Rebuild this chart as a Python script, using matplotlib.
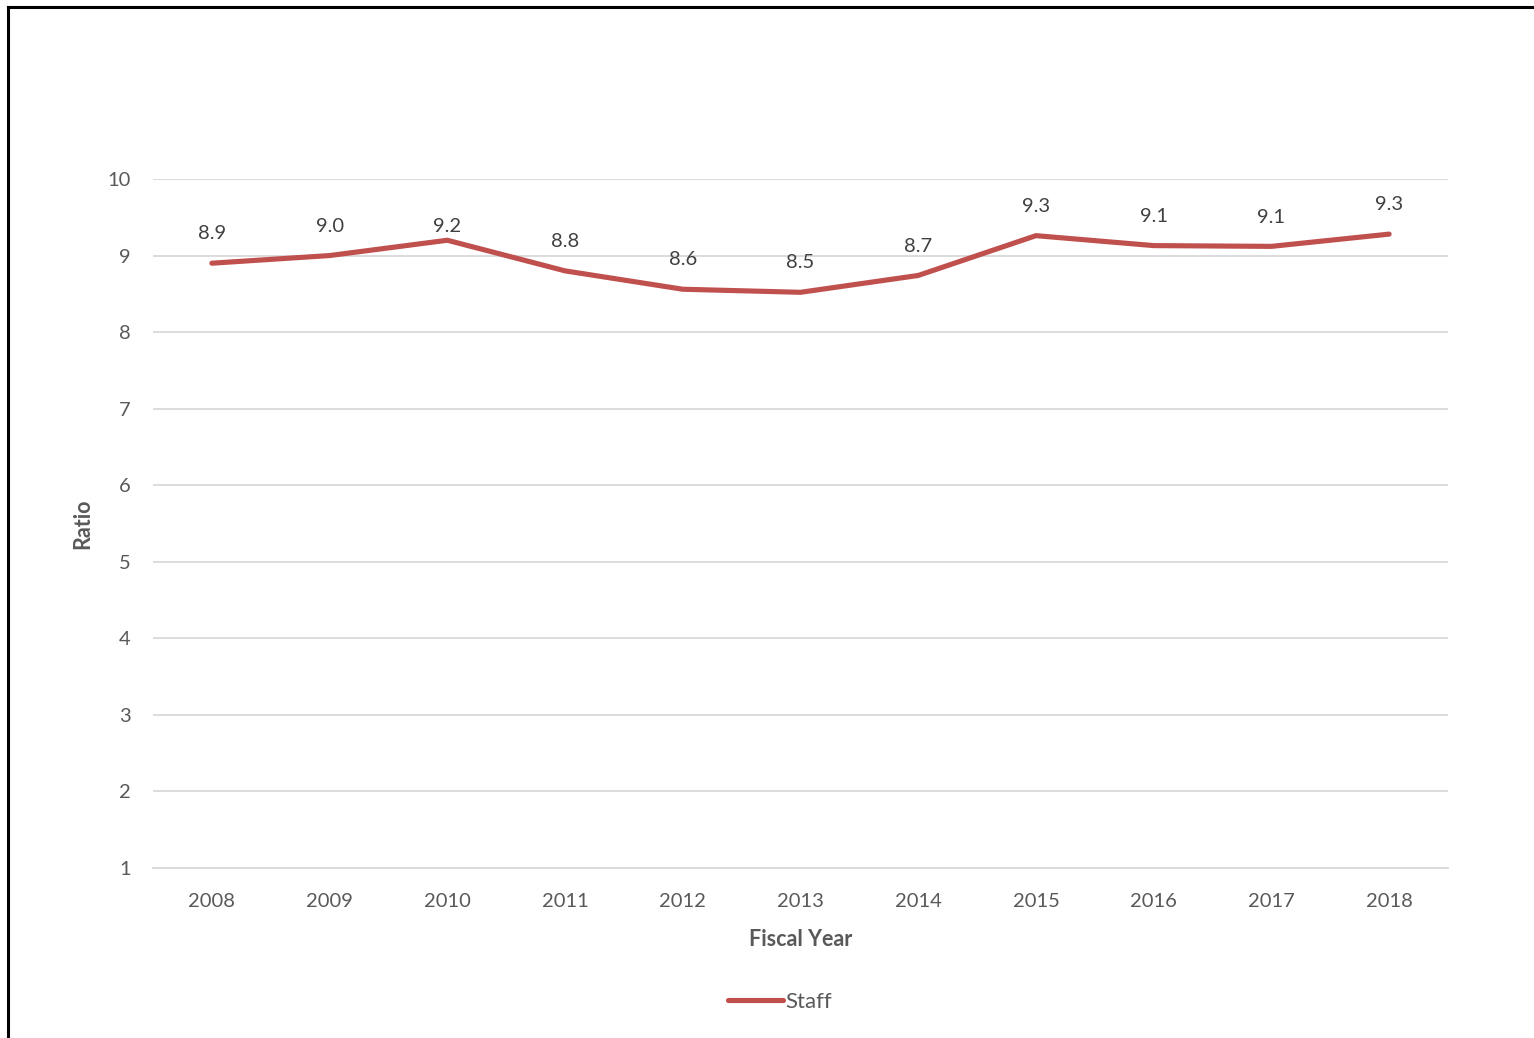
import matplotlib
matplotlib.use("Agg")
import matplotlib.pyplot as plt
from matplotlib.lines import Line2D

plt.rcParams['font.family'] = ['Lato', 'DejaVu Sans']

years = ["2008", "2009", "2010", "2011", "2012", "2013", "2014", "2015", "2016", "2017", "2018"]
staff = [8.90, 9.00, 9.20, 8.80, 8.56, 8.52, 8.74, 9.26, 9.13, 9.12, 9.28]
labels = ["8.9", "9.0", "9.2", "8.8", "8.6", "8.5", "8.7", "9.3", "9.1", "9.1", "9.3"]
yticks = [1, 2, 3, 4, 5, 6, 7, 8, 9, 10]

W, H = 1534, 1038
fig = plt.figure(figsize=(W / 100, H / 100), dpi=100)
ax = fig.add_axes([153 / W, 1 - 868 / H, (1448 - 153) / W, (868 - 179) / H])

x = list(range(len(years)))
line, = ax.plot(x, staff, color="#C0504D", lw=3.7, solid_capstyle="round",
                solid_joinstyle="round", label="Staff", zorder=3)

for i, (xi, yi, lab) in enumerate(zip(x, staff, labels)):
    off = 4 if years[i] == "2010" else 15
    ax.annotate(lab, (xi, yi), xytext=(0, off), textcoords="offset points",
                ha="center", va="bottom", fontsize=14.5, color="#404040")

ax.set_xlim(-0.5, len(years) - 0.5)
ax.set_ylim(1, 10)
ax.set_yticks(yticks)
ax.set_xticks(x)
ax.set_xticklabels(years)
ax.yaxis.grid(True, color="#d9d9d9", lw=1.3)
ax.set_axisbelow(True)
for s in ["top", "right", "left"]:
    ax.spines[s].set_visible(False)
ax.spines["bottom"].set_color("#d9d9d9")
ax.spines["bottom"].set_linewidth(1.3)
ax.tick_params(axis="both", length=0, labelsize=14.5, labelcolor="#595959")
ax.tick_params(axis="y", pad=16)
ax.tick_params(axis="x", pad=18)

ax.set_xlabel("Fiscal Year", fontsize=15.5, fontweight="bold", color="#595959", labelpad=14)
ax.set_ylabel("Ratio", fontsize=15.5, fontweight="bold", color="#595959", labelpad=10)

leg = fig.legend(handles=[line], loc="center", bbox_to_anchor=(780 / W, 1 - 1002 / H),
                 frameon=False, fontsize=16, handlelength=2.45, handletextpad=0.1)
for t in leg.get_texts():
    t.set_color("#595959")

# partial border (top and left)
fig.add_artist(Line2D([8 / W, 1], [1 - 7 / H, 1 - 7 / H], transform=fig.transFigure,
                      color="black", lw=2.2))
fig.add_artist(Line2D([8 / W, 8 / W], [0, 1 - 7 / H], transform=fig.transFigure,
                      color="black", lw=2.2))

fig.savefig("out.png", dpi=100, facecolor="white")
